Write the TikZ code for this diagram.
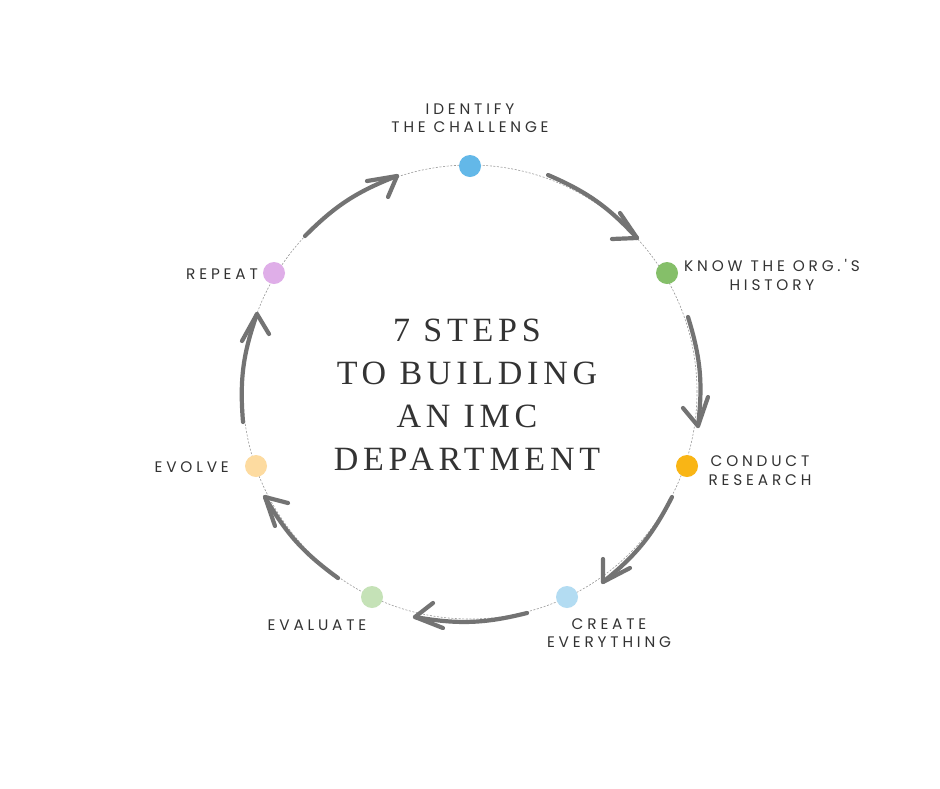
\documentclass[tikz,border=0pt]{standalone}
\usepackage{fontspec}
\newfontfamily\labelfont[LetterSpace=25]{Poppins}
\newfontfamily\titlefont[LetterSpace=14]{Liberation Serif}
\definecolor{cA}{HTML}{63B8E8}
\definecolor{cB}{HTML}{85BF69}
\definecolor{cC}{HTML}{F9B515}
\definecolor{cD}{HTML}{B3DCF2}
\definecolor{cE}{HTML}{C5E2B7}
\definecolor{cF}{HTML}{FDDBA0}
\definecolor{cG}{HTML}{DFAEE8}
\definecolor{arrgray}{HTML}{737373}
\definecolor{guidegray}{HTML}{9A9A9A}
\definecolor{txt}{HTML}{333333}
\begin{document}
\begin{tikzpicture}[x=1pt,y=-1pt,
  dot/.style={circle,draw=none,minimum size=22pt,inner sep=0pt},
  guide/.style={draw=guidegray,line width=0.6pt,dash pattern=on 2pt off 1.6pt},
  arr/.style={draw=arrgray,line width=4.2pt,line cap=round,line join=round},
  lab/.style={font=\labelfont\fontsize{15.3}{18.5}\selectfont,text=txt,inner sep=0pt,align=center},
  ttl/.style={font=\titlefont\fontsize{34}{43}\selectfont,text=txt,inner sep=0pt,align=center}]
\useasboundingbox (0,0) rectangle (940,788);
\fill[white] (0,0) rectangle (940,788);
\coordinate (O) at (470,392);
\draw[guide] (O) circle[radius=227pt];
% dots
\node[dot,fill=cA] (d1) at (470,166) {};
\node[dot,fill=cB] (d2) at (667,273) {};
\node[dot,fill=cC] (d3) at (687,466) {};
\node[dot,fill=cD] (d4) at (567,597) {};
\node[dot,fill=cE] (d5) at (372,597) {};
\node[dot,fill=cF] (d6) at (256,466) {};
\node[dot,fill=cG] (d7) at (274,273) {};
% labels
\node[lab,anchor=north] (l1) at (470,103.5) {IDENTIFY\\THE CHALLENGE};
\node[lab,anchor=north] (l2) at (772,259.5) {KNOW THE ORG.'S\\HISTORY};
\node[lab,anchor=north] (l3) at (760,455.5) {CONDUCT\\RESEARCH};
\node[lab,anchor=north] (l4) at (609,618) {CREATE\\EVERYTHING};
\node[lab,anchor=base] (l5) at (317,630) {EVALUATE};
\node[lab,anchor=base east] (l6) at (229,472) {EVOLVE};
\node[lab,anchor=base east] (l7) at (258,279) {REPEAT};
% title
\node[ttl,anchor=north] (t) at (467,318.5) {7 STEPS\\TO BUILDING\\AN IMC\\DEPARTMENT};
% arrow end points
\coordinate (s1) at (548,175); \coordinate (e1) at (637,238);
\coordinate (a1) at (620,213); \coordinate (b1) at (612,239);
\coordinate (s2) at (688,317); \coordinate (e2) at (698,426);
\coordinate (a2) at (683,408); \coordinate (b2) at (708,397);
\coordinate (s3) at (672,497); \coordinate (e3) at (603,582);
\coordinate (a3) at (603,559); \coordinate (b3) at (630,568);
\coordinate (s4) at (527,613); \coordinate (e4) at (415,617);
\coordinate (a4) at (433,603); \coordinate (b4) at (443,628);
\coordinate (s5) at (338,578); \coordinate (e5) at (265,497);
\coordinate (a5) at (288,503); \coordinate (b5) at (275,526);
\coordinate (s6) at (243,422); \coordinate (e6) at (257,314);
\coordinate (a6) at (242,341); \coordinate (b6) at (269,334);
\coordinate (s7) at (305,236); \coordinate (e7) at (397,176);
\coordinate (a7) at (367,181); \coordinate (b7) at (388,197);
\foreach \i in {1,...,7}{
  \draw[arr] (s\i) to[bend left=12] (e\i);
  \draw[arr] (a\i) -- (e\i) -- (b\i);
}
\end{tikzpicture}
\end{document}
